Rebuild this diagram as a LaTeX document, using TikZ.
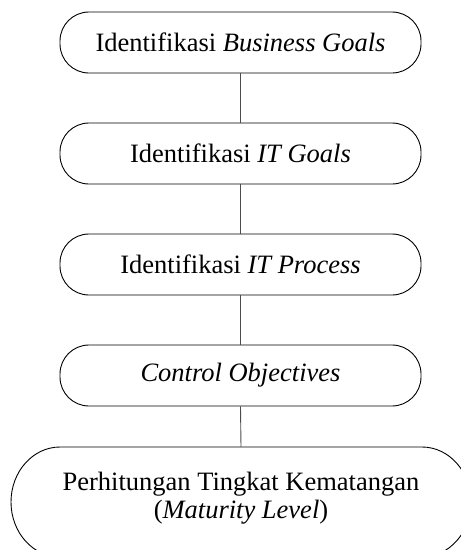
\documentclass[tikz,border=0pt]{standalone}
\usepackage{fontspec}
\setmainfont{Liberation Serif}
\begin{document}
\begin{tikzpicture}[x=1pt,y=-1pt,
  stepbox/.style={draw=black, line width=0.9pt, rounded corners=29pt,
    minimum width=361pt, minimum height=61pt, inner sep=0pt,
    font=\fontsize{26.5}{28}\selectfont},
  link/.style={draw=black!70, line width=0.9pt}]
\clip (0,0) rectangle (461,550);
\useasboundingbox (0,0) rectangle (461,550);
\node[stepbox] (n1) at (240.5,42.5) {Identifikasi \textit{Business Goals}};
\node[stepbox] (n2) at (240.5,153.5) {Identifikasi \textit{IT Goals}};
\node[stepbox] (n3) at (240.5,264.5) {Identifikasi \textit{IT Process}};
\node[stepbox] (n4) at (240.5,375.5) {\textit{Control Objectives}};
\node[minimum width=460pt, minimum height=110pt, inner sep=0pt] (n5) at (241,502) {};
\draw[line width=0.9pt] (60,447) -- (422,447)
  arc[start angle=90, end angle=-90, x radius=49pt, y radius=55pt]
  -- (60,557)
  arc[start angle=-90, end angle=-270, x radius=49pt, y radius=55pt] -- cycle;
\node[align=center, font=\fontsize{26.5}{28.5}\selectfont] (t5) at (241,498)
  {Perhitungan Tingkat Kematangan\\(\textit{Maturity Level})};
\draw[link] (n1) -- (n2);
\draw[link] (n2) -- (n3);
\draw[link] (n3) -- (n4);
\draw[link] (n4.south) -- (n5.north);
\end{tikzpicture}
\end{document}
